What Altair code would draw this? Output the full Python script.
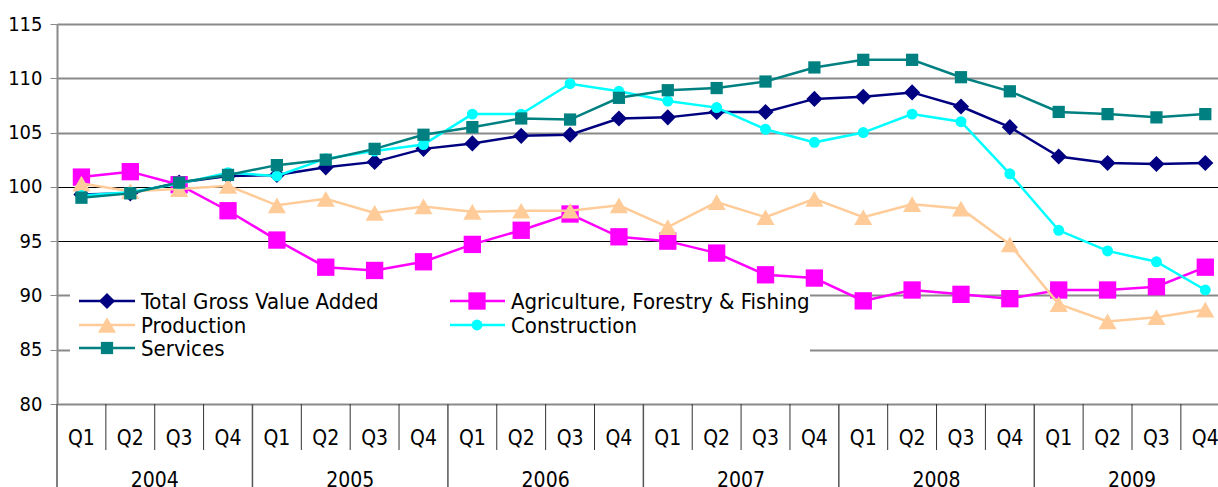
import altair as alt
import pandas as pd

# ---- data -----------------------------------------------------------------
quarters = ["Q1", "Q2", "Q3", "Q4"]
years = ["2004", "2005", "2006", "2007", "2008", "2009"]

total_gva = [99.3, 99.4, 100.4, 101.0, 101.1, 101.8, 102.3, 103.5, 104.0, 104.7, 104.8, 106.3,
             106.4, 106.9, 106.9, 108.1, 108.3, 108.7, 107.4, 105.5, 102.8, 102.2, 102.1, 102.2]
agriculture = [100.9, 101.4, 100.2, 97.8, 95.1, 92.6, 92.3, 93.1, 94.7, 96.0, 97.5, 95.4,
               95.0, 93.9, 91.9, 91.6, 89.5, 90.5, 90.1, 89.7, 90.5, 90.5, 90.8, 92.6]
production = [100.3, 99.6, 99.8, 100.1, 98.3, 98.9, 97.6, 98.2, 97.7, 97.8, 97.8, 98.3,
              96.3, 98.6, 97.2, 98.9, 97.2, 98.4, 98.0, 94.7, 89.2, 87.6, 88.0, 88.7]
construction = [99.2, 99.5, 100.3, 101.3, 101.0, 102.6, 103.3, 103.9, 106.7, 106.7, 109.5, 108.8,
                107.9, 107.3, 105.3, 104.1, 105.0, 106.7, 106.0, 101.2, 96.0, 94.1, 93.1, 90.5]
services = [99.0, 99.4, 100.4, 101.1, 102.0, 102.5, 103.5, 104.8, 105.5, 106.3, 106.2, 108.2,
            108.9, 109.1, 109.7, 111.0, 111.7, 111.7, 110.1, 108.8, 106.9, 106.7, 106.4, 106.7]

series_names = ["Total Gross Value Added", "Agriculture, Forestry & Fishing",
                "Production", "Construction", "Services"]
series_values = [total_gva, agriculture, production, construction, services]

# ---- styling ----------------------------------------------------------------
FONT = "DejaVu Sans Condensed, Liberation Sans Narrow, Arial Narrow, sans-serif"
colors = ["#000080", "#FF00FF", "#FFCC99", "#00FFFF", "#008080"]
shapes = ["diamond", "square", "triangle-up", "circle", "square"]
sizes = [260, 300, 330, 120, 150]
legend_col = [0, 1, 0, 1, 0]
legend_row = [0, 0, 1, 1, 2]

W, H = 1161, 380
n_q = len(quarters) * len(years)

rows = []
for name, vals in zip(series_names, series_values):
    for i, v in enumerate(vals):
        rows.append({"series": name, "i": i, "value": v})
df = pd.DataFrame(rows)

x_scale = alt.Scale(domain=[0, 23.76], nice=False, zero=False)
y_scale = alt.Scale(domain=[80, 115], nice=False, zero=False)

y_axis = alt.Axis(
    values=[80, 85, 90, 95, 100, 105, 110, 115],
    title=None,
    grid=True,
    gridColor=alt.condition("datum.value == 100 || datum.value == 95",
                            alt.value("#000000"), alt.value("#8a8a8a")),
    gridWidth=alt.condition("datum.value == 100 || datum.value == 95",
                            alt.value(1), alt.value(2)),
    domainColor="#8a8a8a", domainWidth=2,
    tickColor="#8a8a8a", tickSize=7, tickWidth=1,
    labelFont=FONT, labelFontSize=20, labelColor="#000000", labelPadding=8,
)

X = alt.X("xc:Q", scale=x_scale, axis=None)
Y = alt.Y("value:Q", scale=y_scale, axis=y_axis)

layers = []

# white legend panel (drawn above the gridlines, beneath the data)
layers.append(
    alt.Chart(pd.DataFrame({"k": [0]})).mark_rect(color="white").encode(
        x=alt.value(13), x2=alt.value(753), y=alt.value(259), y2=alt.value(340)
    )
)

# one line + markers per series, in series order
for name, col, shp, sz in zip(series_names, colors, shapes, sizes):
    layers.append(
        alt.Chart(df).transform_filter(alt.datum.series == name)
        .transform_calculate(xc="datum.i + 0.5")
        .mark_line(color=col, strokeWidth=2.5,
                   point=alt.OverlayMarkDef(shape=shp, size=sz, filled=True,
                                            color=col, opacity=1))
        .encode(x=X, y=Y)
    )

# category axis: quarter and year separators and labels
div = pd.DataFrame({"b": list(range(0, n_q))})
layers.append(
    alt.Chart(div).transform_filter("datum.b % 4 != 0")
    .transform_calculate(xc="datum.b")
    .mark_rule(color="#333333", strokeWidth=1)
    .encode(x=X, y=alt.value(H), y2=alt.value(H + 46))
)
layers.append(
    alt.Chart(div).transform_filter("datum.b % 4 == 0")
    .transform_calculate(xc="datum.b")
    .mark_rule(color="#555555", strokeWidth=1.5)
    .encode(x=X, y=alt.value(H), y2=alt.value(H + 90))
)

qdf = pd.DataFrame({"i": list(range(n_q)), "q": quarters * len(years)})
layers.append(
    alt.Chart(qdf).transform_calculate(xc="datum.i + 0.5")
    .mark_text(font=FONT, fontSize=21, color="black", baseline="alphabetic")
    .encode(x=X, y=alt.value(H + 41), text="q:N")
)
ydf = pd.DataFrame({"k": list(range(len(years))), "year": years})
layers.append(
    alt.Chart(ydf).transform_calculate(xc="datum.k * 4 + 2")
    .mark_text(font=FONT, fontSize=21, color="black", baseline="alphabetic")
    .encode(x=X, y=alt.value(H + 83), text="year:N")
)

# legend entries
col_x = [(22, 50, 78, 84), (393, 420, 448, 454)]
row_y = [277, 301, 324]
for name, col, shp, sz, c, r in zip(series_names, colors, shapes, sizes, legend_col, legend_row):
    x0, xm, x1, xt = col_x[c]
    yy = row_y[r]
    one = pd.DataFrame({"label": [name]})
    layers.append(
        alt.Chart(one).mark_rule(color=col, strokeWidth=2.5).encode(
            x=alt.value(x0), x2=alt.value(x1), y=alt.value(yy)
        )
    )
    layers.append(
        alt.Chart(one).mark_point(shape=shp, size=sz, filled=True, color=col, opacity=1).encode(
            x=alt.value(xm), y=alt.value(yy)
        )
    )
    layers.append(
        alt.Chart(one).mark_text(font=FONT, fontSize=22, color="black", align="left",
                                 baseline="alphabetic").encode(
            x=alt.value(xt), y=alt.value(yy + 8), text="label:N"
        )
    )

chart = alt.layer(*layers).properties(
    width=W, height=H,
    autosize=alt.AutoSizeParams(type="none"),
    padding={"left": 57, "top": 24, "right": 0, "bottom": 83},
).configure_view(stroke=None).configure(background="white")

chart.save("out.html", embed_options={"renderer": "svg", "actions": False})
